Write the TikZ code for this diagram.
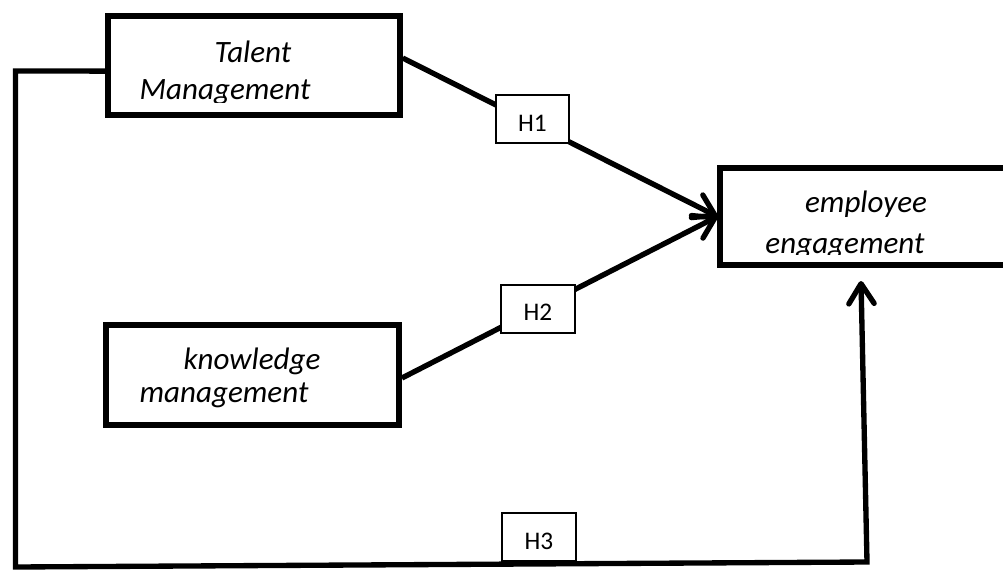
\documentclass[tikz,border=0pt]{standalone}
\usepackage{fontspec}
\setmainfont{Carlito}
\usetikzlibrary{arrows.meta,calc}
\begin{document}
\begin{tikzpicture}[x=0.75pt,y=-0.75pt,
  bigbox/.style={draw, line width=4.2pt, fill=white, inner sep=0pt},
  hbox/.style={draw, line width=1.5pt, fill=white, inner sep=0pt, minimum width=55pt, minimum height=36pt, text height=18pt, text depth=0pt, font=\fontsize{19}{22}\selectfont},
  conn/.style={line width=4pt, line join=miter},
  tip/.style={-{Straight Barb[length=15pt,width=19pt,line cap=round,line join=round]}},
  lbl/.style={font=\fontsize{23.3}{28}\selectfont\itshape, inner sep=0pt, anchor=base}]
\clip (0,0) rectangle (1003,571);
\fill[white] (0,0) rectangle (1003,571);
% boxes
\node[bigbox, minimum width=219pt, minimum height=74.25pt] (tm) at (254,65.5) {};
\node[bigbox, minimum width=220pt, minimum height=75pt] (km) at (252.5,375) {};
\node[bigbox, minimum width=221pt, minimum height=72.75pt] (ee) at (867.5,216.5) {};
% texts
\node[lbl] (t1) at (253,62) {Talent};
\begin{scope}
  \clip (110,70) rectangle (398,102);
  \node[lbl] (t2) at (225,99) {Management};
\end{scope}
\node[lbl] (k1) at (252,369) {knowledge};
\node[lbl] (k2) at (224,402) {management};
\node[lbl] (e1) at (866,212) {employee};
\begin{scope}
  \clip (722,220) rectangle (1003,254);
  \node[lbl] (e2) at (845,253) {engagement};
\end{scope}
% connectors
\draw[conn, tip] ([yshift=5.6pt]tm.east) -- (ee.west);
\draw[conn, tip] ([yshift=-2.25pt]km.east) -- (ee.west);
\coordinate (c1) at (15.5,71);
\coordinate (c2) at (15.5,567);
\coordinate (c3) at (867,562);
\coordinate (h3end) at (861,281);
\draw[conn, tip] ([yshift=-4.2pt]tm.west) -- (c1) -- (c2) -- (c3) -- (h3end);
% hypothesis labels
\node[hbox] (h1) at (532.5,119) {H1};
\node[hbox] (h2) at (538,308.5) {H2};
\node[hbox, minimum width=56pt] (h3) at (539,537) {H3};
\end{tikzpicture}
\end{document}
